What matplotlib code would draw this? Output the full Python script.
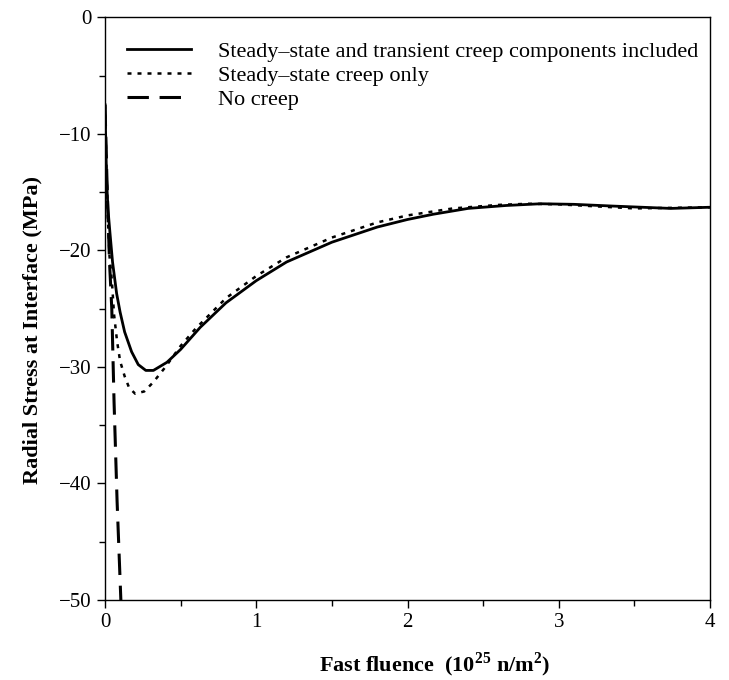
import matplotlib
matplotlib.use("Agg")
import matplotlib.pyplot as plt

plt.rcParams['font.family'] = ['Liberation Serif', 'DejaVu Serif']
plt.rcParams['mathtext.fontset'] = 'custom'
plt.rcParams['mathtext.rm'] = 'Liberation Serif'
plt.rcParams['mathtext.bf'] = 'Liberation Serif:bold'

# Data (fluence in 1e25 n/m^2, stress in MPa)
x_full = [0, 0.005, 0.011, 0.02, 0.033, 0.05, 0.077, 0.1, 0.13, 0.176, 0.22, 0.27, 0.32, 0.41,
          0.5, 0.63, 0.8, 1.0, 1.2, 1.5, 1.8, 2.0, 2.17, 2.4, 2.65, 2.88, 3.1, 3.36, 3.74, 4.0]
y_full = [-7.5, -10.5, -14.0, -16.5, -18.5, -21.0, -23.7, -25.3, -27.0, -28.7, -29.8, -30.3, -30.3, -29.6,
          -28.5, -26.6, -24.5, -22.6, -21.0, -19.3, -18.0, -17.35, -16.9, -16.4, -16.15, -16.0, -16.05, -16.2, -16.4, -16.3]

x_steady = [0, 0.01, 0.02, 0.03, 0.045, 0.06, 0.08, 0.1, 0.13, 0.16, 0.2, 0.26, 0.32, 0.4, 0.5,
            0.6, 0.8, 1.0, 1.2, 1.5, 1.8, 2.0, 2.3, 2.6, 2.8, 3.0, 3.5, 4.0]
y_steady = [-7.5, -13, -17.5, -20.5, -22.5, -25.5, -27.8, -29.5, -30.8, -31.8, -32.3, -32.1, -31.3, -30.0, -28.2,
            -26.7, -24.1, -22.2, -20.6, -18.9, -17.6, -17.0, -16.4, -16.1, -16.0, -16.05, -16.4, -16.3]

x_nocreep = [0, 0.01, 0.02, 0.03, 0.045, 0.06, 0.08, 0.105]
y_nocreep = [-7.5, -12.5, -17, -21, -25, -33, -41.5, -50]

labels = ["Steady\u2013state and transient creep components included",
          "Steady\u2013state creep only",
          "No creep"]
x_ticks = [0, 1, 2, 3, 4]
y_ticks = [0, -10, -20, -30, -40, -50]

fig = plt.figure(figsize=(7.29, 6.8), dpi=100)
ax = fig.add_axes([0.144, 0.1176, 0.830, 0.857])

ax.plot(x_full, y_full, color='black', lw=2.0, label=labels[0])
ax.plot(x_steady, y_steady, color='black', lw=1.8, linestyle=(0, (1.6, 2.4)), label=labels[1])
ax.plot(x_nocreep, y_nocreep, color='black', lw=2.2, linestyle=(0, (7, 3.5)), label=labels[2])

ax.set_xlim(0, 4)
ax.set_ylim(-50, 0)
ax.set_xticks(x_ticks)
ax.set_yticks(y_ticks)
ax.set_xticks([0.5, 1.5, 2.5, 3.5], minor=True)
ax.set_yticks([-5, -15, -25, -35, -45], minor=True)
ax.set_xticklabels([str(v) for v in x_ticks])
ax.set_yticklabels([("\u2212" + str(-v)) if v != 0 else "0" for v in y_ticks])
ax.tick_params(which='major', direction='out', length=6, width=1, labelsize=15)
ax.tick_params(which='minor', direction='out', length=4, width=1)
for s in ax.spines.values():
    s.set_linewidth(1.0)

ax.set_xlabel(r'Fast fluence  (10$^{\mathbf{25}}$ n/m$^{\mathbf{2}}$)', fontsize=16,
              fontweight='bold', labelpad=13)
ax.set_ylabel('Radial Stress at Interface (MPa)', fontsize=16, fontweight='bold', labelpad=12)
ax.xaxis.label.set_x(0.545)
ax.yaxis.label.set_y(0.463)

ax.legend(loc='upper left', frameon=False, fontsize=16, handlelength=2.9,
          handletextpad=1.2, labelspacing=0.15, borderaxespad=0.3,
          bbox_to_anchor=(0.01, 0.985))

fig.savefig('out.png', dpi=100)
